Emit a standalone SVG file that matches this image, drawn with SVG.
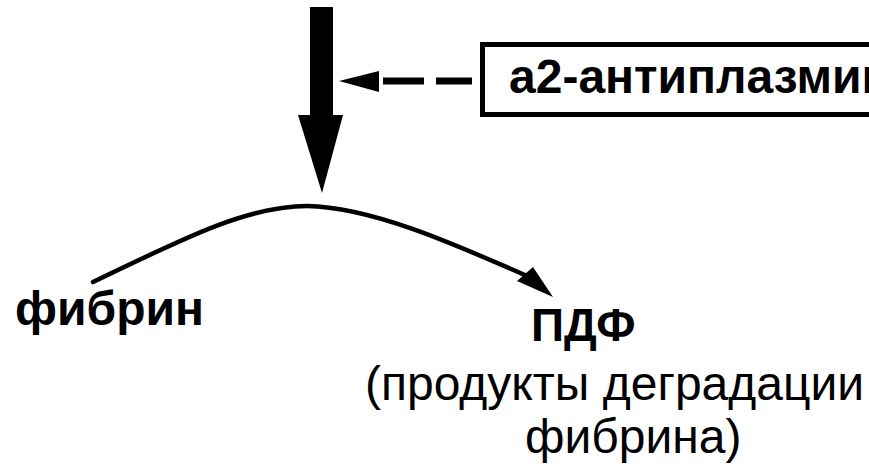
<svg xmlns="http://www.w3.org/2000/svg" width="869" height="468" viewBox="0 0 869 468">
<style>
.b{font-family:"Liberation Sans",Arial,sans-serif;font-weight:bold;font-size:48px;fill:#000}
.r{font-family:"Liberation Sans",Arial,sans-serif;font-size:48px;fill:#000}
</style>
<rect width="869" height="468" fill="#fff"/>
<g id="connectors">
<g id="main-arrow">
<rect x="310" y="7" width="23" height="109" fill="#000"/>
<polygon points="298,115 343,115 322,193" fill="#000"/>
</g>
<g id="inhibit-arrow">
<polygon points="339,81 379,71 379,92" fill="#000"/>
<rect x="383" y="77.5" width="41" height="7" fill="#000"/>
<rect x="436" y="77.5" width="36" height="7" fill="#000"/>
</g>
<g id="curve">
<path d="M93,282 C190,235 250,206 307,206 C370,207 450,242 527,276" fill="none" stroke="#000" stroke-width="4.5" stroke-linecap="round"/>
<polygon points="517,281 533,267 553,297" fill="#000"/>
</g>
</g>
<g id="antiplasmin">
<rect x="482.5" y="44.5" width="420" height="70" fill="none" stroke="#000" stroke-width="5"/>
<text class="b" x="509" y="93">а2-антиплазмин</text>
</g>
<g id="fibrin">
<text class="b" x="15" y="325">фибрин</text>
</g>
<g id="pdf">
<text class="b" x="531" y="341" style="font-size:46px">ПДФ</text>
<text class="r" x="365" y="400">(продукты деградации</text>
<text class="r" x="525" y="453">фибрина)</text>
</g>
</svg>
